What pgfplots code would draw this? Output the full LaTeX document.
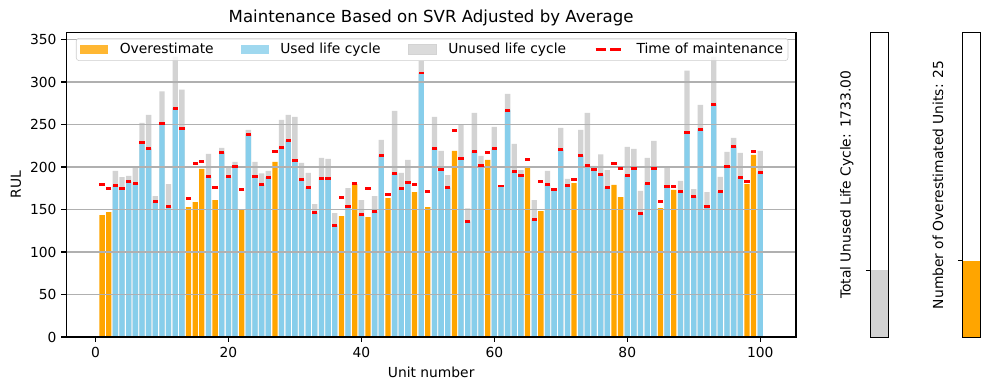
\documentclass[border=0pt]{standalone}
\usepackage{pgfplots}
\usepackage{pgfplotstable}
\pgfplotsset{compat=1.18}
\usepackage{fontspec}
\setmainfont{DejaVu Sans}
\definecolor{cOrange}{HTML}{FFA500}
\definecolor{cBlue}{HTML}{87CEEB}
\definecolor{cGray}{HTML}{D3D3D3}
\definecolor{cGrid}{HTML}{B0B0B0}
\definecolor{cLeg}{HTML}{CCCCCC}

% x gray(total for non-overestimated) used(maintenance) over(total for overestimated) maint
\pgfplotstableread{
x gray used over maint
1 nan nan 143.5 179.6
2 nan nan 147 175
3 195.4 178.5 nan 178.5
4 188 175 nan 175
5 189.5 183 nan 183
6 199.7 181 nan 181
7 252 229 nan 229
8 261.4 222 nan 222
9 165.9 159.6 nan 159.6
10 289 251.6 nan 251.6
11 180 153.7 nan 153.7
12 330 269.3 nan 269.3
13 291 245.7 nan 245.7
14 nan nan 152.9 163
15 nan nan 158.8 204.4
16 nan nan 197.7 206.8
17 215.4 189 nan 189
18 nan nan 161 176
19 222.5 217.4 nan 217.4
20 200 189 nan 189
21 206 200.9 nan 200.9
22 nan nan 149.8 173.7
23 243.7 238.6 nan 238.6
24 206 189 nan 189
25 192.6 179.6 nan 179.6
26 195.4 188 nan 188
27 nan nan 206 218.6
28 255.5 223.3 nan 223.3
29 261.4 231.5 nan 231.5
30 259 207.9 nan 207.9
31 204.8 185.5 nan 185.5
32 193 176 nan 176
33 156.4 146.6 nan 146.6
34 210.7 186.7 nan 186.7
35 209.5 186.7 nan 186.7
36 145.8 131.3 nan 131.3
37 nan nan 142.3 164.3
38 175.3 153.7 nan 153.7
39 nan nan 179.6 180.8
40 161.2 144.3 nan 144.3
41 nan nan 141 175
42 165.9 147.8 nan 147.8
43 231.9 213.8 nan 213.8
44 nan nan 163.5 167.8
45 266 192.6 nan 192.6
46 193 175 nan 175
47 208.3 182 nan 182
48 nan nan 170.6 179.6
49 325 310.5 nan 310.5
50 nan nan 152.9 171.4
51 259 222 nan 222
52 219 197.3 nan 197.3
53 190.6 176 nan 176
54 nan nan 219 243.3
55 250 210.3 nan 210.3
56 151.3 136 nan 136
57 263.8 218.6 nan 218.6
58 213 202 nan 202
59 nan nan 208.3 217.4
60 247.2 222 nan 222
61 177.7 177.7 nan 177.7
62 286.2 266.9 nan 266.9
63 227.2 195 nan 195
64 196.5 190.3 nan 190.3
65 nan nan 199.7 209.1
66 161.2 138.4 nan 138.4
67 nan nan 148.2 183.2
68 195.4 179.6 nan 179.6
69 173.7 173.7 nan 173.7
70 246 220.9 nan 220.9
71 186 178.5 nan 178.5
72 nan nan 181.2 185.5
73 243.7 213.8 nan 213.8
74 263.8 202 nan 202
75 201.3 197.3 nan 197.3
76 215 191.4 nan 191.4
77 196.5 176 nan 176
78 nan nan 178.9 204.4
79 nan nan 164.7 198.5
80 223.7 190.3 nan 190.3
81 221.3 198.5 nan 198.5
82 171.8 145.4 nan 145.4
83 210.7 180.8 nan 180.8
84 230.7 198.5 nan 198.5
85 nan nan 151.7 159.6
86 199.7 177.3 nan 177.3
87 nan nan 173 177.3
88 183.6 171.4 nan 171.4
89 313.3 241 nan 241
90 174.1 165.5 nan 165.5
91 273.2 244.5 nan 244.5
92 170.6 153.7 nan 153.7
93 330 274 nan 274
94 188.3 171.4 nan 171.4
95 217.8 200.9 nan 200.9
96 234.3 224.4 nan 224.4
97 216.6 188 nan 188
98 nan nan 180 183.2
99 nan nan 214.2 218.6
100 219 193.8 nan 193.8
}\datatable

\pgfplotsset{
  mplstyle/.style={
    scale only axis,
    tick align=outside,
    tick pos=left,
    major tick length=3.5pt,
    axis line style={line width=0.8pt},
    every tick/.style={black, line width=0.8pt},
    tick label style={font=\fontsize{10}{12}\selectfont},
    label style={font=\fontsize{10}{12}\selectfont},
    /pgf/number format/assume math mode=true,
  },
}

\begin{document}
\begin{tikzpicture}
\useasboundingbox (0,0) rectangle (714.76pt,281.86pt);

\begin{axis}[
  mplstyle,
  at={(47.9pt,38.3pt)}, anchor=south west,
  width=527.4pt, height=219.9pt,
  xmin=-4.39, xmax=105.39, ymin=0, ymax=358,
  xtick={0,20,...,100}, ytick={0,50,...,350},
  ymajorgrids, grid style={cGrid, line width=0.8pt},
  axis on top,
  every axis title shift=0pt,
  title={\fontsize{12}{14}\selectfont Maintenance Based on SVR Adjusted by Average},
  title style={at={(axis description cs:0.5,1.048)}, anchor=center},
  xlabel={Unit number}, ylabel={RUL},
  xlabel style={at={(axis description cs:0.5,-0.115)}, anchor=center},
  ylabel style={at={(axis description cs:-0.069,0.5)}, anchor=center, rotate=0},
  legend columns=4,
  legend style={at={(axis description cs:0.0133,0.9826)}, anchor=north west,
    draw=cLeg, rounded corners=2pt, fill=white, fill opacity=0.8, text opacity=1,
    inner sep=3pt, font=\fontsize{10}{12}\selectfont,
    nodes={inner sep=0.5pt},
    /tikz/every odd column/.append style={column sep=8pt},
    /tikz/every even column/.append style={column sep=0pt}},
]
\addplot[ybar, bar width=0.8, bar shift=0pt, fill=cGray, draw=none, forget plot]
  table[x=x, y=gray] {\datatable};
\addplot[ybar, bar width=0.8, bar shift=0pt, fill=cOrange, draw=none,
  legend image code/.code={\fill[cOrange, sharp corners] (0pt,-3.5pt) rectangle (20pt,3.5pt);}]
  table[x=x, y=over] {\datatable};
\addlegendentry{\makebox[87pt][l]{Overestimate}}
\addplot[ybar, bar width=0.8, bar shift=0pt, fill=cBlue, draw=none,
  legend image code/.code={\fill[cBlue, sharp corners] (0pt,-3.5pt) rectangle (20pt,3.5pt);}]
  table[x=x, y=used] {\datatable};
\addlegendentry{\makebox[92pt][l]{Used life cycle}}
\addlegendimage{legend image code/.code={\fill[cGray, sharp corners] (0pt,-3.5pt) rectangle (20pt,3.5pt);}}
\addlegendentry{\makebox[105pt][l]{Unused life cycle}}
\addplot[only marks, mark=-, mark size=1.92pt, mark options={red, line width=2pt},
  legend image code/.code={\draw[red, sharp corners, line width=2pt, dash pattern=on 7.4pt off 3.2pt] (0pt,0pt) -- (20pt,0pt);}]
  table[x=x, y=maint] {\datatable};
\addlegendentry{Time of maintenance}
\end{axis}

\begin{axis}[
  mplstyle,
  at={(629.3pt,38.3pt)}, anchor=south west,
  width=12.7pt, height=219.9pt,
  xmin=-0.4, xmax=0.4, ymin=0, ymax=7909,
  xtick=\empty, ytick={1733}, yticklabels={\mbox{}},
  ylabel={Total Unused Life Cycle: 1733.00},
  ylabel style={at={(axis description cs:-1.36,0.5)}, anchor=center},
]
\addplot[ybar, bar width=0.8, bar shift=0pt, fill=cGray, draw=none] coordinates {(0,1733)};
\end{axis}

\begin{axis}[
  mplstyle,
  at={(695.7pt,38.3pt)}, anchor=south west,
  width=12.7pt, height=219.9pt,
  xmin=-0.4, xmax=0.4, ymin=0, ymax=100,
  xtick=\empty, ytick={25}, yticklabels={\mbox{}},
  ylabel={Number of Overestimated Units: 25},
  ylabel style={at={(axis description cs:-1.41,0.5)}, anchor=center},
]
\addplot[ybar, bar width=0.8, bar shift=0pt, fill=cOrange, draw=none] coordinates {(0,25)};
\end{axis}
\end{tikzpicture}
\end{document}
